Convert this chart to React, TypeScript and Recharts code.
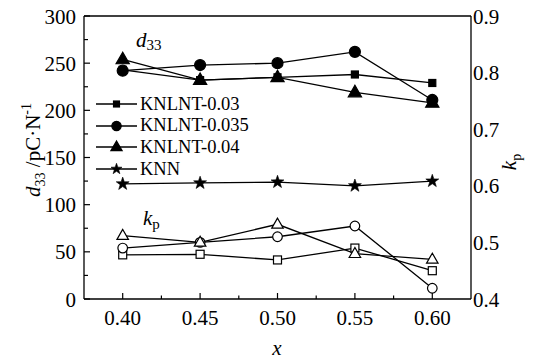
import { LineChart, Line, XAxis, YAxis, Legend, ReferenceLine } from "recharts";

const FONT = "Liberation Serif, Tinos, Times New Roman, DejaVu Serif, serif";

// composition x
const xValues = [0.4, 0.45, 0.5, 0.55, 0.6];

// d33 (pC/N), left axis
const d33KNLNT003 = [243, 232, 235, 238, 229];
const d33KNLNT0035 = [242, 248, 250, 262, 211];
const d33KNLNT004 = [254, 232, 235, 219, 208];
const d33KNN = [122, 123, 124, 120, 125];

// kp, right axis
const kpKNLNT003 = [0.478, 0.479, 0.469, 0.49, 0.45];
const kpKNLNT0035 = [0.49, 0.5, 0.51, 0.529, 0.419];
const kpKNLNT004 = [0.512, 0.5, 0.532, 0.48, 0.47];

// ticks: even index = labelled, odd = minor
const xTicks = [0.4, 0.425, 0.45, 0.475, 0.5, 0.525, 0.55, 0.575, 0.6];
const d33Ticks = [0, 25, 50, 75, 100, 125, 150, 175, 200, 225, 250, 275, 300];
const kpTicks = [0.4, 0.45, 0.5, 0.55, 0.6, 0.65, 0.7, 0.75, 0.8, 0.85, 0.9];

const data = xValues.map((x, i) => ({
  x,
  d003: d33KNLNT003[i],
  d0035: d33KNLNT0035[i],
  d004: d33KNLNT004[i],
  knn: d33KNN[i],
  k003: kpKNLNT003[i],
  k0035: kpKNLNT0035[i],
  k004: kpKNLNT004[i],
}));

type Shape = "square" | "circle" | "triangle" | "star";

function Marker({ cx, cy, shape, filled, scale = 1 }: { cx: number; cy: number; shape: Shape; filled: boolean; scale?: number }) {
  const fill = filled ? "#000" : "#fff";
  const sw = 1.2;
  if (shape === "square") {
    const s = (filled ? 7 : 8) * scale;
    return <rect x={cx - s / 2} y={cy - s / 2} width={s} height={s} fill={fill} stroke="#000" strokeWidth={sw} />;
  }
  if (shape === "circle") {
    const r = (filled ? 5.5 : 4.8) * scale;
    return <circle cx={cx} cy={cy} r={r} fill={fill} stroke="#000" strokeWidth={sw} />;
  }
  if (shape === "triangle") {
    const h = (filled ? 11.5 : 10) * scale;
    const w = h * 1.15;
    const pts = `${cx},${cy - h * 0.62} ${cx - w / 2},${cy + h * 0.38} ${cx + w / 2},${cy + h * 0.38}`;
    return <polygon points={pts} fill={fill} stroke="#000" strokeWidth={sw} strokeLinejoin="miter" />;
  }
  const outer = 6.8 * scale;
  const inner = 2.7 * scale;
  const pts: string[] = [];
  for (let k = 0; k < 10; k++) {
    const r = k % 2 === 0 ? outer : inner;
    const a = -Math.PI / 2 + (k * Math.PI) / 5;
    pts.push(`${cx + r * Math.cos(a)},${cy + r * Math.sin(a)}`);
  }
  return <polygon points={pts.join(" ")} fill={fill} stroke="#000" strokeWidth={0.6} />;
}

const dotFor = (id: string, shape: Shape, filled: boolean) => (p: any) =>
  <Marker key={`${id}-${p.index}`} cx={p.cx} cy={p.cy} shape={shape} filled={filled} />;

const legendShapes: Record<string, Shape> = { d003: "square", d0035: "circle", d004: "triangle", knn: "star" };

function LegendContent({ payload }: any) {
  const items = (payload || []).filter((e: any) => legendShapes[e.dataKey]);
  return (
    <div style={{ fontFamily: FONT, fontSize: 18.5, color: "#000", lineHeight: 1 }}>
      {items.map((entry: any) => (
        <div key={entry.value} style={{ display: "flex", alignItems: "center", height: 21.7 }}>
          <svg width={44} height={16}>
            <line x1={1} x2={42} y1={8} y2={8} stroke="#000" strokeWidth={1.3} />
            <Marker cx={21.5} cy={8} shape={legendShapes[entry.dataKey]} filled scale={0.85} />
          </svg>
          <span style={{ marginLeft: 1 }}>{entry.value}</span>
        </div>
      ))}
    </div>
  );
}

function LeftTick({ x, y, index, payload }: any) {
  const major = index % 2 === 0;
  return (
    <g>
      <line x1={x} x2={x + (major ? 6 : 4)} y1={y} y2={y} stroke="#000" strokeWidth={1.2} />
      {major && (
        <text x={x - 8} y={y} dy="0.36em" textAnchor="end" fontSize={21} style={{ fontFamily: FONT }} fill="#000">
          {payload.value}
        </text>
      )}
    </g>
  );
}

function RightTick({ x, y, index, payload }: any) {
  if (index % 2 !== 0) return <g />;
  return (
    <text x={x + 2} y={y} dy="0.36em" textAnchor="start" fontSize={21} style={{ fontFamily: FONT }} fill="#000">
      {Number(payload.value).toFixed(1)}
    </text>
  );
}

function BottomTick({ x, y, index, payload }: any) {
  const major = index % 2 === 0;
  return (
    <g>
      <line x1={x} x2={x} y1={y} y2={y - (major ? 6 : 3.5)} stroke="#000" strokeWidth={1.2} />
      {major && (
        <text x={x} y={y + 18} dy="0.36em" textAnchor="middle" fontSize={21} style={{ fontFamily: FONT }} fill="#000">
          {Number(payload.value).toFixed(2)}
        </text>
      )}
    </g>
  );
}

export default function App() {
  return (
    <div style={{ position: "absolute", left: 0, top: 0, width: 538, height: 359, background: "#fff", fontFamily: FONT }}>
      <LineChart width={538} height={359} data={data} margin={{ top: 16, right: 0, left: 0, bottom: 0 }}>
        <XAxis
          dataKey="x"
          type="number"
          domain={[0.375, 0.625]}
          ticks={xTicks}
          interval={0}
          height={60}
          tickSize={0}
          tickMargin={0}
          tickLine={false}
          axisLine={{ stroke: "#000", strokeWidth: 1.3 }}
          tick={<BottomTick />}
          label={{
            content: () => (
              <text x={277} y={355} textAnchor="middle" fontSize={21} fontStyle="italic" style={{ fontFamily: FONT }} fill="#000">
                x
              </text>
            ),
          }}
        />
        <YAxis
          yAxisId="d"
          domain={[0, 300]}
          ticks={d33Ticks}
          interval={0}
          width={84}
          tickSize={0}
          tickMargin={0}
          tickLine={false}
          axisLine={{ stroke: "#000", strokeWidth: 1.3 }}
          tick={<LeftTick />}
          label={{
            content: () => (
              <text transform="translate(40,150) rotate(-90)" textAnchor="middle" fontSize={21} style={{ fontFamily: FONT }} fill="#000">
                <tspan fontStyle="italic">d</tspan>
                <tspan fontSize={14} dy={5}>33</tspan>
                <tspan dy={-5}> /pC·N</tspan>
                <tspan fontSize={14} dy={-9}>-1</tspan>
              </text>
            ),
          }}
        />
        <YAxis
          yAxisId="k"
          orientation="right"
          domain={[0.4, 0.9]}
          ticks={kpTicks}
          interval={0}
          width={67}
          tickSize={0}
          tickMargin={0}
          tickLine={false}
          axisLine={{ stroke: "#000", strokeWidth: 1.3 }}
          tick={<RightTick />}
          label={{
            content: () => (
              <text transform="translate(516,162) rotate(-90)" textAnchor="middle" fontSize={21} style={{ fontFamily: FONT }} fill="#000">
                <tspan fontStyle="italic">k</tspan>
                <tspan fontSize={14} dy={5}>p</tspan>
              </text>
            ),
          }}
        />
        <ReferenceLine yAxisId="d" y={300} stroke="#000" strokeWidth={1.3} />

        <Line yAxisId="k" dataKey="k003" stroke="#000" strokeWidth={1.3} legendType="none" dot={dotFor("k003", "square", false)} activeDot={false} isAnimationActive={false} />
        <Line yAxisId="k" dataKey="k0035" stroke="#000" strokeWidth={1.3} legendType="none" dot={dotFor("k0035", "circle", false)} activeDot={false} isAnimationActive={false} />
        <Line yAxisId="k" dataKey="k004" stroke="#000" strokeWidth={1.3} legendType="none" dot={dotFor("k004", "triangle", false)} activeDot={false} isAnimationActive={false} />

        <Line yAxisId="d" dataKey="d003" name="KNLNT-0.03" stroke="#000" strokeWidth={1.3} dot={dotFor("d003", "square", true)} activeDot={false} isAnimationActive={false} />
        <Line yAxisId="d" dataKey="d0035" name="KNLNT-0.035" stroke="#000" strokeWidth={1.3} dot={dotFor("d0035", "circle", true)} activeDot={false} isAnimationActive={false} />
        <Line yAxisId="d" dataKey="d004" name="KNLNT-0.04" stroke="#000" strokeWidth={1.3} dot={dotFor("d004", "triangle", true)} activeDot={false} isAnimationActive={false} />
        <Line yAxisId="d" dataKey="knn" name="KNN" stroke="#000" strokeWidth={1.3} dot={dotFor("knn", "star", true)} activeDot={false} isAnimationActive={false} />

        <Legend
          layout="vertical"
          align="center"
          verticalAlign="middle"
          content={<LegendContent />}
          wrapperStyle={{ left: 95, top: 93, width: "auto", height: "auto" }}
        />
      </LineChart>

      <svg width={538} height={359} style={{ position: "absolute", left: 0, top: 0, pointerEvents: "none", fontFamily: FONT }}>
        <text x={136} y={47} fontSize={21} fill="#000">
          <tspan fontStyle="italic">d</tspan>
          <tspan fontSize={15} dy={3}>33</tspan>
        </text>
        <text x={143} y={225} fontSize={21} fill="#000">
          <tspan fontStyle="italic">k</tspan>
          <tspan fontSize={15} dy={4}>p</tspan>
        </text>
      </svg>
    </div>
  );
}
